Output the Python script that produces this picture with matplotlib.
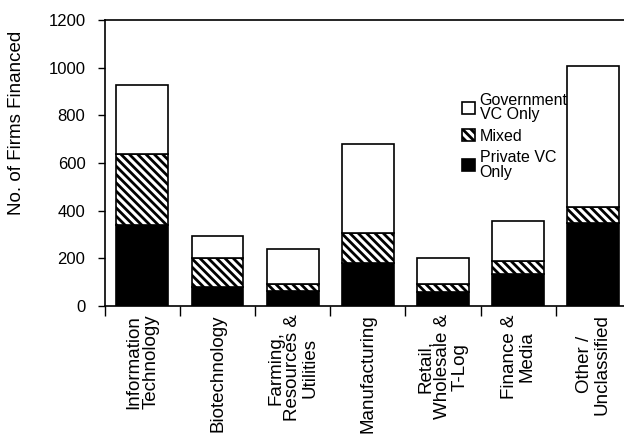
import matplotlib
matplotlib.use("Agg")
import matplotlib.pyplot as plt
import numpy as np

plt.rcParams['font.family'] = ['Liberation Sans', 'DejaVu Sans']
plt.rcParams['hatch.linewidth'] = 2.0

categories = ["Information\nTechnology", "Biotechnology", "Farming,\nResources &\nUtilities",
              "Manufacturing", "Retail,\nWholesale &\nT-Log", "Finance &\nMedia", "Other /\nUnclassified"]
private_vc = [340, 80, 63, 180, 59, 134, 348]
mixed = [298, 121, 29, 126, 33, 55, 67]
government_vc = [289, 93, 147, 374, 109, 168, 592]

x = np.arange(len(categories))
fig = plt.figure(figsize=(6.24, 4.42), dpi=100)
ax = fig.add_axes([0.168, 0.3077, 0.843, 0.647])

w = 0.69
b1 = ax.bar(x, private_vc, w, color='black', edgecolor='black', linewidth=1.2)
b2 = ax.bar(x, mixed, w, bottom=private_vc, color='white', edgecolor='black', hatch='\\\\\\\\',
            linewidth=1.2)
bottom2 = np.array(private_vc) + np.array(mixed)
b3 = ax.bar(x, government_vc, w, bottom=bottom2, color='white', edgecolor='black',
            linewidth=1.2)

ax.set_xlim(-0.5, 6.5)
ax.set_ylim(0, 1200)
ax.set_yticks(range(0, 1201, 200))
ax.set_ylabel("No. of Firms Financed", fontsize=13.5)
ax.yaxis.set_label_coords(-0.152, 0.64)
ax.tick_params(axis='y', labelsize=12, direction='out', length=5, width=1, pad=9)

ax.set_xticks(x)
ax.set_xticklabels(categories, rotation=90, fontsize=13.5, va='top', ha='center',
                   multialignment='center', linespacing=1.0)
ax.tick_params(axis='x', which='major', length=0, pad=6)
ax.set_xticks(np.arange(-0.5, 7, 1), minor=True)
ax.tick_params(axis='x', which='minor', length=7, width=1, direction='out')

for s in ['left', 'bottom', 'top', 'right']:
    ax.spines[s].set_linewidth(1.2)

leg = ax.legend([b3, b2, b1], ['Government\nVC Only', 'Mixed', 'Private VC\nOnly'],
                loc='upper left', bbox_to_anchor=(0.652, 0.795), frameon=False, fontsize=11.5,
                handlelength=0.8, handleheight=0.8, handletextpad=0.3, labelspacing=0.4)
for t in leg.get_texts():
    t.set_linespacing(0.95)

fig.savefig("out.png", dpi=100)
